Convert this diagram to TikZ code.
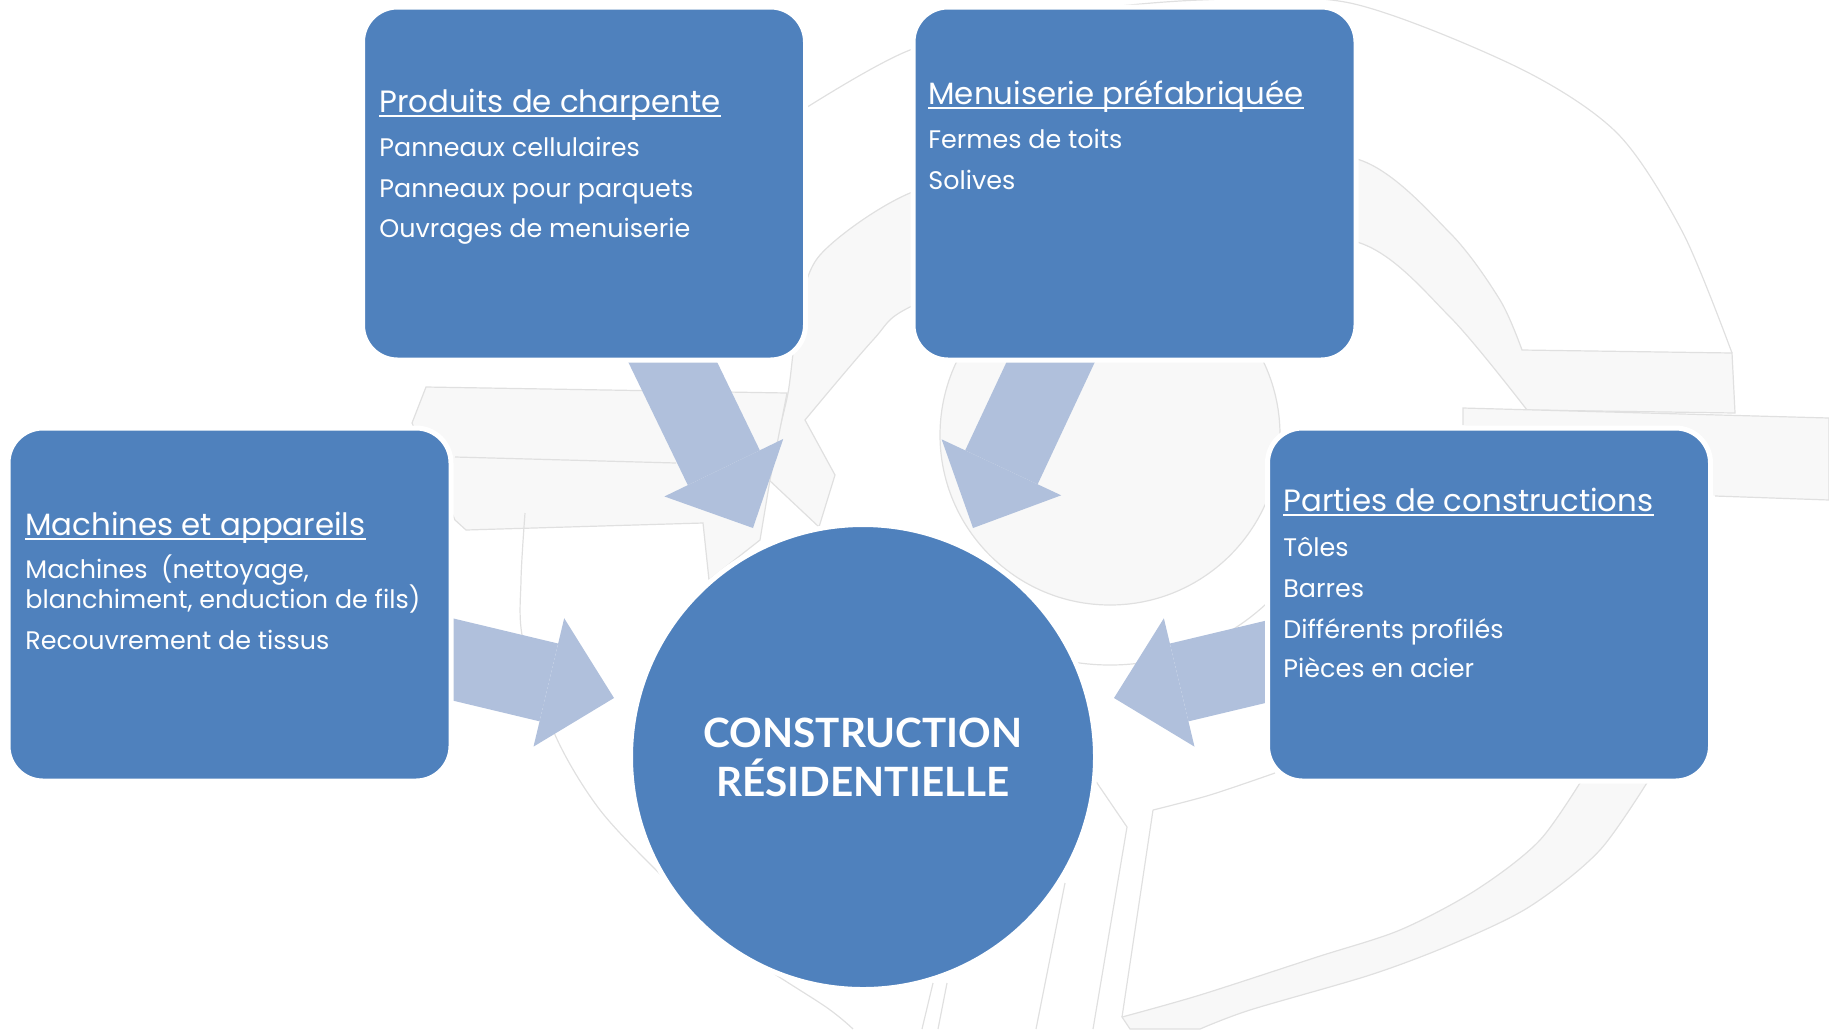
\documentclass[tikz,border=0pt]{standalone}
\usepackage{fontspec}
\usetikzlibrary{arrows.meta}
\newfontfamily\poppins{Poppins}
\newfontfamily\latofont{Lato}
\newcommand\boxtitlefont{\poppins\fontsize{15.4}{18}\selectfont}
\newcommand\boxitemfont{\poppins\fontsize{12.7}{15}\selectfont}
\newcommand\hubfont{\latofont\bfseries\fontsize{20.2}{24.5}\selectfont}
\definecolor{boxblue}{RGB}{79,129,189}
\definecolor{arrowblue}{RGB}{176,192,220}
\definecolor{wmfill}{RGB}{248,248,248}
\definecolor{wmline}{RGB}{224,224,224}
\tikzset{
  box/.style={rectangle, rounded corners=17.5pt, fill=boxblue, draw=white,
    line width=2.5pt, minimum width=221.5pt, minimum height=176.5pt},
  hub/.style={circle, fill=boxblue, draw=white, line width=2.5pt,
    minimum size=232.5pt, inner sep=0pt, text=white, align=center, font=\hubfont},
  bigarrow/.style={draw=arrowblue, line width=40pt,
    -{Triangle[length=33.5pt, width=66pt, line width=0pt, fill=arrowblue]}},
  boxtitle/.style={anchor=base west, inner sep=0pt, text=white, font=\boxtitlefont},
  boxitem/.style={anchor=base west, inner sep=0pt, text=white, font=\boxitemfont},
  uline/.style={draw=white, line width=0.65pt},
  wm/.style={fill=wmfill, draw=wmline, line width=0.6pt},
  wmedge/.style={draw=wmline, line width=0.6pt}
}
\begin{document}
\begin{tikzpicture}[x=0.5pt,y=-0.5pt]
  \useasboundingbox (0,0) rectangle (1829,1029);

  % faint logo in the background
  \begin{scope}
    \clip (0,0) rectangle (1829,1029);
    \draw[wmedge] plot[smooth] coordinates {(790,118) (910,50) (1060,14) (1200,0)
      (1350,3) (1517,67) (1617,133) (1683,233) (1732,353)};
    \draw[wm] plot[smooth] coordinates {(769,480) (774,450) (788,393) (798,320)
      (820,255) (910,193) (1050,158) (1200,148) (1360,160) (1450,233) (1500,300)
      (1522,350)} -- (1732,353) -- (1735,413)
      -- plot[smooth] coordinates {(1527,410) (1450,317) (1360,243) (1200,232)
      (1050,252) (910,307) (873,340) (805,420)} -- (835,475) -- (819,527) -- cycle;
    \draw[wm] (1463,425) -- (1463,408) -- (1829,418) -- (1829,500) -- (1715,496);
    \draw[wm] (1110,435) circle (170);
    \draw[wmedge] (1110,435) ++(40:230) arc[start angle=40, end angle=140, radius=230];
    \draw[wm] (426,387) -- (787,393) -- (770,480) -- (760,540) -- (709,580)
      -- (703,523) -- (466,530) -- (455,520) -- (412,423) -- cycle;
    \draw[wmedge] (455,457) -- (676,463);
    \draw[wmedge] plot[smooth] coordinates {(525,513) (521,580) (523,640) (556,737)
      (600,810) (666,880) (740,950) (826,1007) (853,1029)};
    \draw[wm] plot[smooth] coordinates {(1655,770) (1600,850) (1529,907) (1450,945)
      (1370,975) (1250,1010) (1200,1029)} -- (1130,1029)
      -- plot[smooth] coordinates {(1122,1017) (1200,995) (1317,957) (1400,930)
      (1476,890) (1540,840) (1588,770)} -- cycle;
    \draw[wmedge] (1095,780) -- (1127,827) -- (1093,1029);
    \draw[wmedge] (1153,810) -- (1122,1017);
    \draw[wmedge] plot[smooth] coordinates {(1153,810) (1210,795) (1275,773)};
    \draw[wmedge] (933,983) -- (922,1029);
    \draw[wmedge] (947,983) -- (938,1029);
    \draw[wmedge] (1065,883) -- (1036,1029);
  \end{scope}

  % arrows towards the centre
  \coordinate (fromprod) at (662,340);
  \coordinate (toprod) at (753,528);
  \coordinate (frommenu) at (1061,340);
  \coordinate (tomenu) at (973,528);
  \coordinate (frommach) at (430,654);
  \coordinate (tomach) at (614,698);
  \coordinate (frompart) at (1290,656);
  \coordinate (topart) at (1114,698);
  \draw[bigarrow] (fromprod) -- (toprod);
  \draw[bigarrow] (frommenu) -- (tomenu);
  \draw[bigarrow] (frommach) -- (tomach);
  \draw[bigarrow] (frompart) -- (topart);

  % boxes
  \node[box] (produits) at (584,183.5) {};
  \node[box] (menuiserie) at (1134.5,183.5) {};
  \node[box] (machines) at (229.5,604.5) {};
  \node[box] (parties) at (1489,604.5) {};
  \node[hub] (hub) at (863,757) {CONSTRUCTION\\RÉSIDENTIELLE};

  % texts
  \node[boxtitle] (prodtitle) at (379,112) {Produits de charpente};
  \node[boxitem] (prod1) at (379,156) {Panneaux cellulaires};
  \node[boxitem] (prod2) at (379,197) {Panneaux pour parquets};
  \node[boxitem] (prod3) at (379,237) {Ouvrages de menuiserie};

  \node[boxtitle] (menutitle) at (928,104) {Menuiserie préfabriquée};
  \node[boxitem] (menu1) at (928,148) {Fermes de toits};
  \node[boxitem] (menu2) at (928,189) {Solives};

  \node[boxtitle] (machtitle) at (25,535) {Machines et appareils};
  \node[boxitem] (mach1) at (25,578) {Machines~ (nettoyage,};
  \node[boxitem] (mach2) at (25,608) {blanchiment, enduction de fils)};
  \node[boxitem] (mach3) at (25,649) {Recouvrement de tissus};

  \node[boxtitle] (parttitle) at (1283,511) {Parties de constructions};
  \node[boxitem] (part1) at (1283,556) {Tôles};
  \node[boxitem] (part2) at (1283,597) {Barres};
  \node[boxitem] (part3) at (1283,638) {Différents profilés};
  \node[boxitem] (part4) at (1283,677) {Pièces en acier};

  \draw[uline] ([yshift=-2pt]prodtitle.base west) -- ([yshift=-2pt]prodtitle.base east);
  \draw[uline] ([yshift=-2pt]menutitle.base west) -- ([yshift=-2pt]menutitle.base east);
  \draw[uline] ([yshift=-2pt]machtitle.base west) -- ([yshift=-2pt]machtitle.base east);
  \draw[uline] ([yshift=-2pt]parttitle.base west) -- ([yshift=-2pt]parttitle.base east);
\end{tikzpicture}
\end{document}
